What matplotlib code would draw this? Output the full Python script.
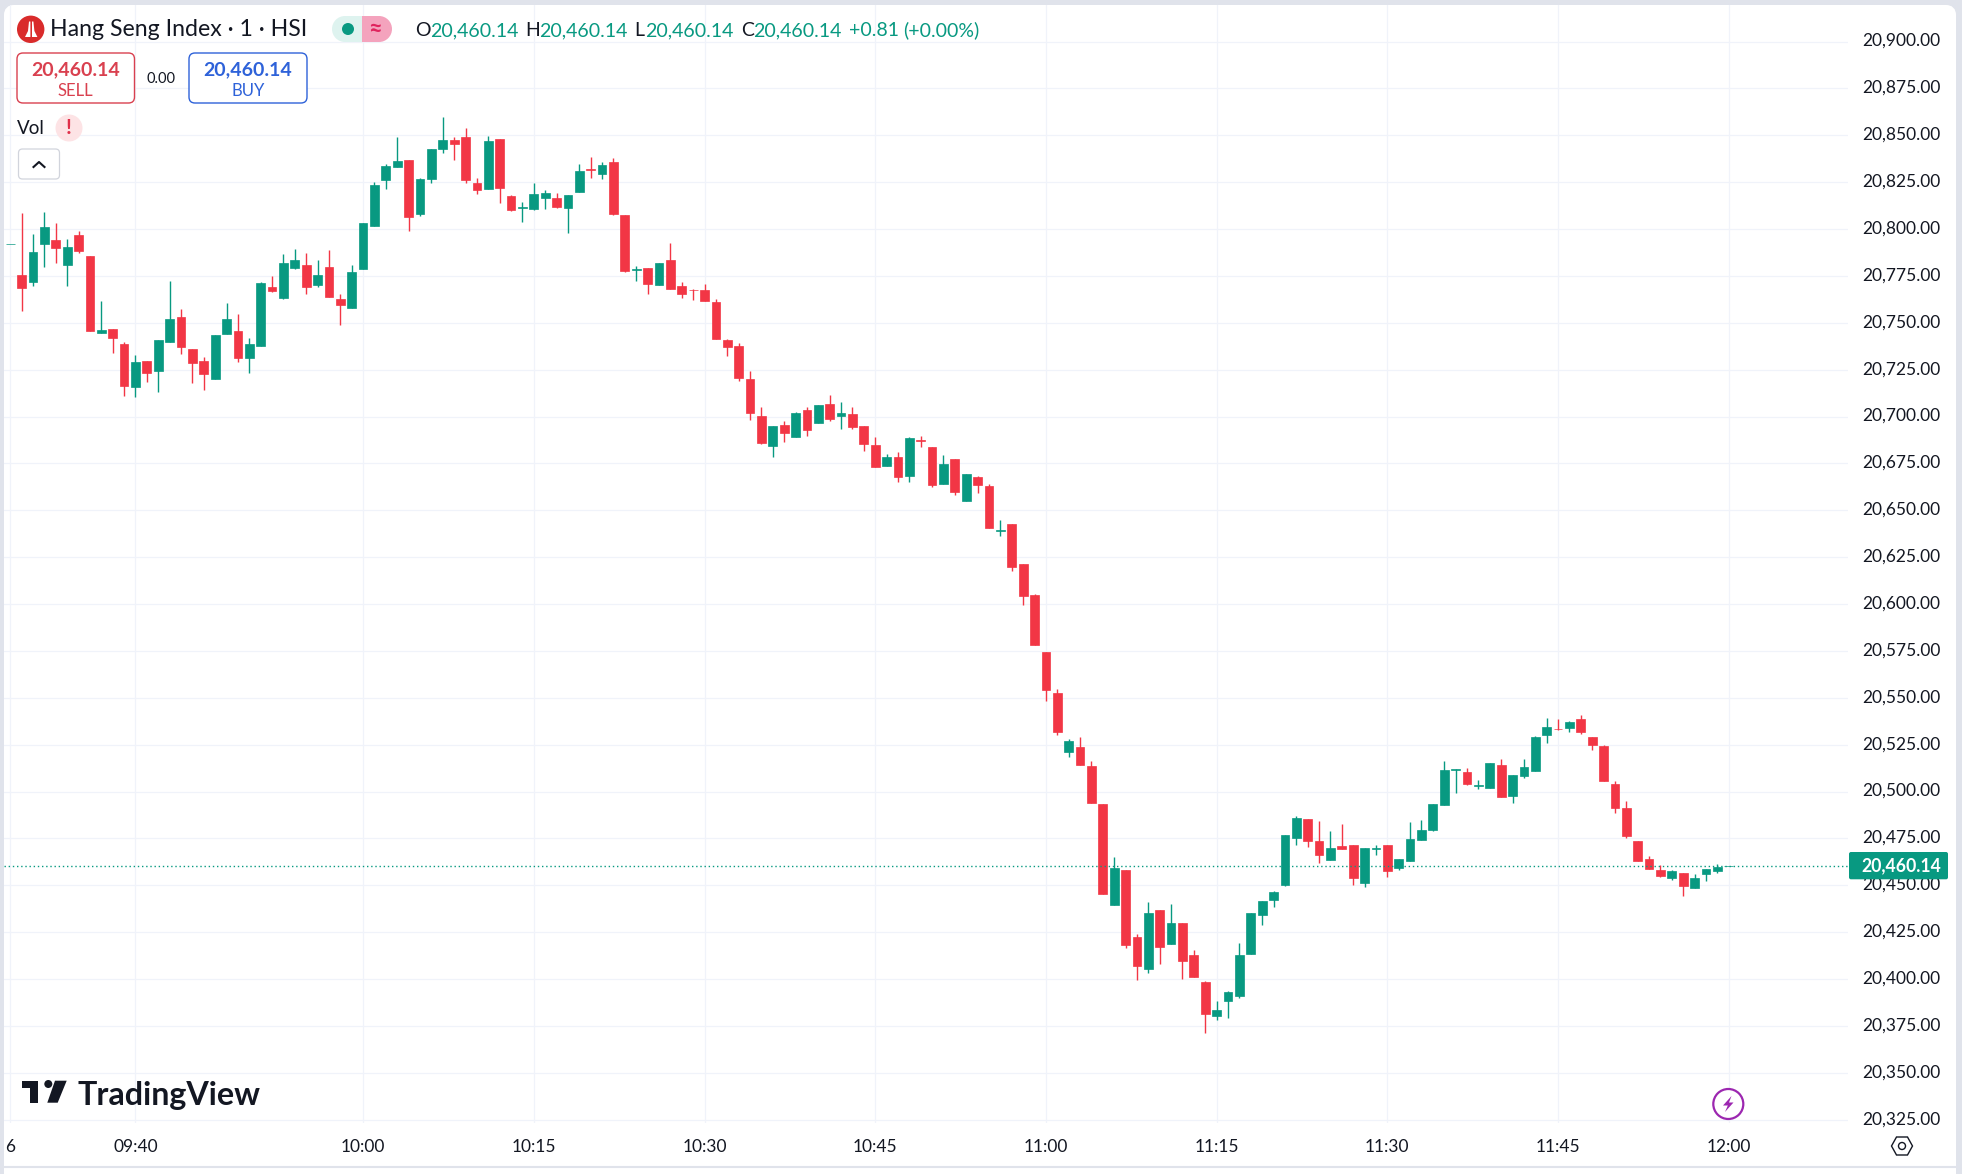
import matplotlib
matplotlib.use("Agg")
import matplotlib.pyplot as plt
from matplotlib.patches import Rectangle, FancyBboxPatch, Circle, Polygon
from matplotlib.transforms import ScaledTranslation

plt.rcParams["font.family"] = ["Lato", "DejaVu Sans"]

# one candle per minute, starting 09:29
opens = [
    20792.1, 20775.5, 20772.0, 20792.2, 20794.2, 20781.0, 20796.8, 20785.6, 20744.8, 20746.7,
    20738.7, 20716.0, 20729.6, 20724.5, 20740.0, 20753.1, 20736.0, 20729.6, 20720.2, 20744.2,
    20745.6, 20731.4, 20737.8, 20769.1, 20763.4, 20779.4, 20780.9, 20770.2, 20779.8, 20762.7,
    20758.1, 20778.9, 20801.8, 20826.4, 20833.3, 20836.8, 20808.2, 20826.9, 20842.9, 20847.5,
    20849.1, 20824.6, 20821.6, 20848.0, 20817.6, 20811.4, 20810.7, 20816.6, 20816.6, 20811.2,
    20819.8, 20832.0, 20829.6, 20835.8, 20807.5, 20778.2, 20779.2, 20770.2, 20783.5, 20769.6,
    20767.7, 20767.5, 20761.1, 20740.8, 20737.6, 20720.0, 20700.3, 20684.3, 20695.5, 20689.1,
    20703.5, 20696.6, 20706.7, 20700.3, 20701.4, 20695.0, 20684.8, 20673.6, 20678.4, 20668.3,
    20687.5, 20683.8, 20664.0, 20677.4, 20655.0, 20667.8, 20663.0, 20639.2, 20642.6, 20621.2,
    20604.9, 20574.3, 20552.6, 20521.2, 20523.9, 20513.5, 20493.3, 20439.5, 20458.1, 20422.4,
    20405.4, 20436.8, 20418.8, 20429.8, 20412.8, 20398.4, 20380.5, 20388.3, 20391.0, 20413.4,
    20434.0, 20442.0, 20450.0, 20475.0, 20485.2, 20473.4, 20463.3, 20470.8, 20471.3, 20451.0,
    20469.5, 20471.3, 20459.0, 20462.8, 20474.0, 20479.3, 20492.6, 20511.5, 20510.2, 20503.0,
    20501.7, 20514.0, 20497.4, 20508.1, 20510.8, 20530.0, 20533.5, 20533.7, 20538.5, 20528.9,
    20524.1, 20503.8, 20491.0, 20473.4, 20463.8, 20458.0, 20453.7, 20456.4, 20448.4, 20455.8,
    20457.4, 20460.14,
]
highs = [
    20792.1, 20808.4, 20797.4, 20808.9, 20803.2, 20794.7, 20799.0, 20785.6, 20761.6, 20746.7,
    20739.8, 20732.8, 20729.6, 20740.8, 20772.3, 20757.4, 20736.0, 20731.6, 20743.5, 20760.6,
    20754.7, 20741.7, 20771.6, 20775.0, 20786.5, 20789.4, 20787.2, 20783.5, 20788.7, 20765.4,
    20780.7, 20803.2, 20824.9, 20834.7, 20849.1, 20836.8, 20827.2, 20842.7, 20859.8, 20849.1,
    20853.7, 20827.2, 20849.6, 20848.0, 20818.2, 20814.4, 20824.6, 20820.8, 20819.2, 20818.2,
    20834.7, 20838.4, 20835.8, 20837.9, 20807.5, 20780.3, 20779.2, 20781.9, 20792.6, 20771.8,
    20768.0, 20770.7, 20762.7, 20741.4, 20739.2, 20724.3, 20705.1, 20695.0, 20697.6, 20702.4,
    20705.1, 20706.2, 20711.5, 20707.8, 20705.1, 20695.0, 20689.1, 20680.0, 20681.1, 20689.1,
    20689.6, 20683.8, 20679.5, 20677.4, 20669.4, 20668.3, 20664.0, 20644.9, 20642.6, 20621.2,
    20605.3, 20574.3, 20554.6, 20528.1, 20529.0, 20516.2, 20493.3, 20465.1, 20458.1, 20423.8,
    20441.0, 20436.8, 20440.1, 20429.8, 20415.5, 20398.9, 20388.3, 20393.7, 20419.3, 20435.2,
    20441.4, 20446.8, 20476.6, 20486.8, 20485.2, 20484.1, 20478.8, 20482.5, 20471.3, 20469.7,
    20471.3, 20471.3, 20463.8, 20483.6, 20484.6, 20493.2, 20516.1, 20511.8, 20512.4, 20506.0,
    20515.0, 20517.2, 20508.6, 20517.2, 20529.4, 20539.0, 20538.5, 20537.4, 20540.6, 20528.9,
    20524.6, 20505.4, 20494.8, 20473.4, 20465.4, 20460.6, 20458.0, 20456.4, 20455.8, 20458.5,
    20461.2, 20460.14,
]
lows = [
    20792.1, 20756.5, 20769.8, 20780.0, 20782.1, 20769.8, 20787.4, 20745.8, 20744.8, 20734.1,
    20711.2, 20710.6, 20718.6, 20713.3, 20740.0, 20733.6, 20718.1, 20714.4, 20720.2, 20744.2,
    20729.3, 20723.4, 20737.8, 20766.6, 20762.9, 20778.9, 20765.6, 20769.3, 20764.0, 20749.0,
    20758.1, 20778.9, 20801.8, 20821.6, 20833.3, 20799.2, 20807.2, 20824.8, 20840.8, 20837.0,
    20824.8, 20818.9, 20821.6, 20814.1, 20809.8, 20804.0, 20810.2, 20810.9, 20811.2, 20798.1,
    20819.8, 20827.2, 20826.9, 20807.5, 20777.1, 20772.3, 20765.4, 20770.2, 20768.0, 20763.2,
    20762.2, 20761.6, 20741.4, 20732.3, 20719.0, 20698.2, 20685.4, 20678.4, 20686.4, 20689.1,
    20689.6, 20696.6, 20697.6, 20693.4, 20693.4, 20681.6, 20673.1, 20673.6, 20665.1, 20665.1,
    20683.8, 20662.4, 20664.0, 20658.2, 20655.0, 20659.2, 20640.6, 20636.3, 20617.6, 20599.5,
    20577.9, 20548.3, 20530.1, 20518.5, 20514.2, 20494.0, 20445.1, 20439.5, 20416.4, 20399.5,
    20403.3, 20408.1, 20418.8, 20400.0, 20401.1, 20371.3, 20378.4, 20379.3, 20389.9, 20413.4,
    20428.6, 20438.2, 20449.4, 20471.3, 20470.2, 20461.7, 20463.3, 20469.2, 20450.0, 20448.9,
    20466.0, 20454.2, 20458.0, 20462.8, 20474.0, 20478.8, 20492.6, 20499.0, 20503.3, 20501.2,
    20501.7, 20496.9, 20493.7, 20507.0, 20510.8, 20525.7, 20532.8, 20531.6, 20530.5, 20522.0,
    20505.4, 20488.4, 20475.0, 20462.8, 20458.5, 20454.2, 20452.6, 20444.1, 20448.4, 20452.1,
    20456.4, 20460.14,
]
closes = [
    20792.1, 20768.8, 20787.8, 20801.1, 20789.9, 20790.4, 20788.5, 20745.8, 20746.2, 20742.1,
    20716.5, 20729.1, 20723.4, 20740.8, 20752.0, 20737.3, 20728.8, 20722.9, 20743.5, 20752.0,
    20731.4, 20738.7, 20771.2, 20767.2, 20781.9, 20783.5, 20769.3, 20775.5, 20764.0, 20759.7,
    20777.1, 20803.2, 20823.5, 20833.6, 20836.3, 20806.6, 20826.7, 20842.7, 20847.5, 20845.4,
    20826.4, 20821.0, 20847.0, 20822.1, 20810.4, 20811.8, 20818.7, 20819.2, 20811.8, 20818.2,
    20831.0, 20831.7, 20834.4, 20808.0, 20777.6, 20778.5, 20770.7, 20781.9, 20768.0, 20765.4,
    20767.3, 20761.6, 20741.4, 20737.1, 20720.6, 20701.9, 20685.9, 20695.0, 20691.2, 20701.9,
    20692.8, 20706.2, 20698.7, 20701.9, 20694.4, 20685.4, 20673.1, 20678.4, 20667.8, 20688.6,
    20687.2, 20663.5, 20674.7, 20659.8, 20669.4, 20663.5, 20640.6, 20639.5, 20619.7, 20604.4,
    20577.9, 20553.9, 20531.7, 20527.0, 20514.2, 20494.0, 20445.1, 20459.2, 20418.2, 20406.9,
    20435.2, 20417.0, 20429.8, 20409.6, 20401.1, 20381.4, 20383.6, 20393.2, 20412.8, 20435.2,
    20441.4, 20446.2, 20476.6, 20485.7, 20473.4, 20466.0, 20469.7, 20469.2, 20453.7, 20469.7,
    20469.9, 20457.4, 20463.8, 20474.5, 20479.3, 20493.2, 20511.3, 20511.8, 20503.8, 20503.3,
    20515.0, 20496.9, 20508.6, 20512.9, 20528.9, 20534.2, 20533.2, 20536.9, 20531.6, 20524.6,
    20505.4, 20491.0, 20476.1, 20462.8, 20458.5, 20454.8, 20457.4, 20449.4, 20453.7, 20458.5,
    20459.6, 20460.14,
]

last_price = 20460.14
price_ticks = [20325 + 25 * n for n in range(24)]
time_tick_pos = [0, 11, 31, 46, 61, 76, 91, 106, 121, 136, 151]
time_tick_labels = ["6", "09:40", "10:00", "10:15", "10:30", "10:45", "11:00", "11:15", "11:30", "11:45", "12:00"]

UP = "#089981"
DOWN = "#f23645"
GRID = "#f0f3fa"
FRAME = "#e0e3eb"
INK = "#131722"
W, H = 1962, 1174

fig = plt.figure(figsize=(W / 100, H / 100), dpi=100, facecolor=FRAME)

# white panel behind the chart
bg = fig.add_axes([0, 0, 1, 1], zorder=0)
bg.set_xlim(0, W)
bg.set_ylim(H, 0)
bg.axis("off")
bg.add_patch(FancyBboxPatch((9, 10), 1942, 1180, boxstyle="round,pad=0,rounding_size=5",
                            mutation_aspect=1, fc="white", ec="white", lw=10 * 0.72))
bg.plot([4, 1956], [1166.5, 1166.5], color=FRAME, lw=1.5)

# candles
ax = fig.add_axes([4 / W, (H - 1123) / H, 1844 / W, 1118 / H], zorder=1)
ax.patch.set_alpha(0)
idx = list(range(len(opens)))
colors = [UP if c >= o else DOWN for o, c in zip(opens, closes)]
ax.set_xlim(-0.554, 161.48)
ax.set_ylim(20323.23, 20919.49)
ax.vlines(idx, lows, highs, colors=colors, lw=1.0, zorder=3)
bottoms = [min(o, c) for o, c in zip(opens, closes)]
heights = [abs(c - o) for o, c in zip(opens, closes)]
ax.bar(idx, heights, bottom=bottoms, width=0.77, color=colors, edgecolor=colors, linewidth=0.5, zorder=4)
ax.axhline(last_price, color=UP, lw=1.0, ls=(0, (1, 2)), zorder=5)

ax.set_yticks(price_ticks)
ax.set_yticklabels([f"{p:,.2f}" for p in price_ticks])
ax.yaxis.tick_right()
ax.set_xticks(time_tick_pos)
ax.set_xticklabels(time_tick_labels)
ax.tick_params(axis="y", length=0, pad=10, labelsize=12.5, colors=INK)
ax.tick_params(axis="x", length=0, pad=11.7, labelsize=12.5, colors=INK)
ax.grid(True, color=GRID, lw=0.9, zorder=0)
ax.set_axisbelow(True)
for s in ax.spines.values():
    s.set_visible(False)
# price labels sit a little above their gridlines
lift = ScaledTranslation(0, 2 / 100, fig.dpi_scale_trans)
for tl in ax.get_yticklabels():
    tl.set_transform(tl.get_transform() + lift)

# everything else sits on top, in pixel coordinates
ui = fig.add_axes([0, 0, 1, 1], zorder=2)
ui.set_xlim(0, W)
ui.set_ylim(H, 0)
ui.axis("off")


def label(x, y, s, color=INK, size=12.5, ha="left", weight="normal"):
    ui.text(x, y, s, color=color, fontsize=size, ha=ha, va="center", fontweight=weight)


# symbol icon
ui.add_patch(Circle((30.7, 29.3), 13.7, fc="#d92b2b", ec="none"))
ui.add_patch(Polygon([(29, 21.5), (30.4, 21.5), (30.4, 37), (25, 37), (28, 31)], fc="white", ec="none"))
ui.add_patch(Polygon([(32, 21.5), (33.4, 21.5), (34.4, 31), (37.4, 37), (32, 37)], fc="white", ec="none"))
label(50, 30, "Hang Seng Index · 1 · HSI", size=16.7)

# market status pill
ui.add_patch(Rectangle((345, 16), 17, 26, fc="#def3ef", ec="none"))
ui.add_patch(Circle((345, 29), 13, fc="#def3ef", ec="none"))
ui.add_patch(Rectangle((362, 16), 17, 26, fc="#f4a3bd", ec="none"))
ui.add_patch(Circle((379, 29), 13, fc="#f4a3bd", ec="none"))
ui.add_patch(Circle((348, 29), 6, fc=UP, ec="none"))
label(375, 28, "≈", color="#e0245e", size=17, ha="center", weight="bold")

# OHLC legend
for letter, x0, x1 in [("O", 415, 430), ("H", 525, 539), ("L", 634, 645), ("C", 741, 753.5)]:
    label(x0, 30.5, letter, size=14)
    label(x1, 30.5, "20,460.14", color=UP, size=14.1)
label(849, 30.5, "+0.81", color=UP, size=14)
label(903, 30.5, "(+0.00%)", color=UP, size=14)

# sell / buy buttons
ui.add_patch(FancyBboxPatch((17, 53), 117.5, 50, boxstyle="round,pad=0,rounding_size=6",
                            fc="white", ec="#d9404f", lw=1.0))
label(75.5, 70, "20,460.14", color="#d9404f", size=14, ha="center", weight="bold")
label(75.5, 91, "SELL", color="#d9404f", size=12, ha="center")
label(161, 79, "0.00", size=10.5, ha="center")
ui.add_patch(FancyBboxPatch((189, 53), 118, 50, boxstyle="round,pad=0,rounding_size=6",
                            fc="white", ec="#2e62d9", lw=1.0))
label(248, 70, "20,460.14", color="#2e62d9", size=14, ha="center", weight="bold")
label(248, 91, "BUY", color="#2e62d9", size=12, ha="center")

# volume row and collapse button
label(17, 129, "Vol", size=13.5)
ui.add_patch(Circle((69, 128), 13.5, fc="#fde3e5", ec="none"))
label(69, 128, "!", color="#e0304a", size=15, ha="center", weight="bold")
ui.add_patch(FancyBboxPatch((18.5, 149), 41, 30, boxstyle="round,pad=0,rounding_size=4",
                            fc="white", ec="#d1d4dc", lw=0.9))
ui.plot([33.5, 39, 44.5], [167, 162, 167], color=INK, lw=1.5)

# TradingView watermark
LOGO = "#131722"
ui.add_patch(Polygon([(22, 1080.7), (38, 1080.7), (38, 1102.7), (30, 1102.7), (30, 1087.5), (22, 1087.5)],
                     fc=LOGO, ec="none"))
ui.add_patch(Circle((48.3, 1084), 4, fc=LOGO, ec="none"))
ui.add_patch(Polygon([(55, 1080.7), (66.7, 1080.7), (57.7, 1102.7), (47.3, 1102.7)], fc=LOGO, ec="none"))
label(77, 1095, "TradingView", color=LOGO, size=23.2, weight="bold")

# last price tag
ui.add_patch(FancyBboxPatch((1849, 852), 99, 27.3, boxstyle="round,pad=0,rounding_size=2", fc=UP, ec="none"))
label(1901, 866, "20,460.14", color="white", size=12.7, ha="center", weight="bold")

# lightning button
ui.add_patch(Circle((1728.3, 1104), 15, fc="white", ec="#9c27b0", lw=1.6))
ui.add_patch(Polygon([(1731.5, 1096), (1723, 1105.5), (1727.8, 1105.5), (1725, 1112), (1733.5, 1102.5), (1729, 1102.5)],
                     fc="#9c27b0", ec="none"))

# settings hexagon
ui.add_patch(Polygon([(1891.5, 1146), (1896.5, 1137), (1907.5, 1137), (1912.5, 1146), (1907.5, 1155), (1896.5, 1155)],
                     fc="none", ec=INK, lw=1.0))
ui.add_patch(Circle((1902, 1146), 3.5, fc="none", ec=INK, lw=1.0))

fig.savefig("out.png", dpi=100, facecolor=FRAME)
